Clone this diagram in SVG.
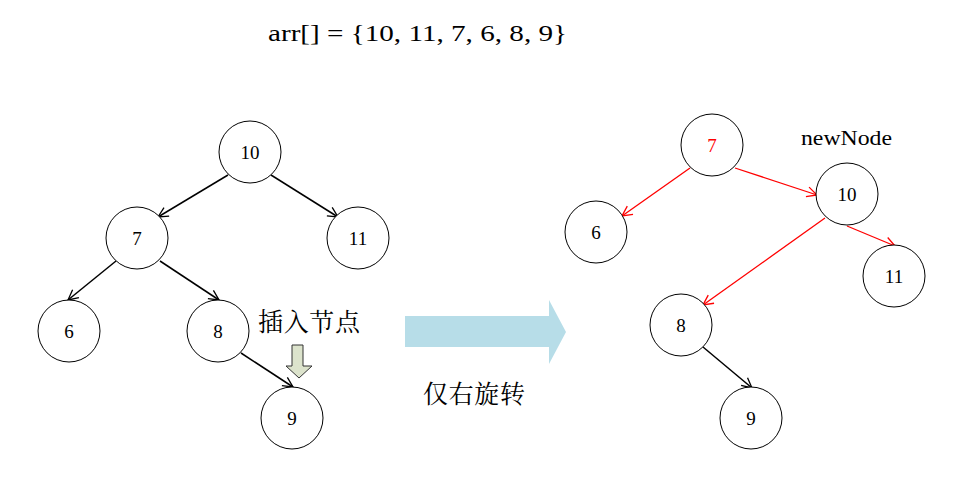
<svg xmlns="http://www.w3.org/2000/svg" width="963" height="483" viewBox="0 0 963 483">
<defs>
<style>
.node circle{fill:#fff;stroke:#000;stroke-width:1}
.lbl{font-family:"Liberation Serif","DejaVu Serif",serif;font-size:19px;text-anchor:middle;dominant-baseline:central;fill:#000}
.cap{font-family:"Noto Serif CJK SC","Noto Sans CJK SC",serif;font-size:25px;fill:#000}
.e{stroke:#000;stroke-width:1.5;fill:none;marker-end:url(#ab)}
.r{stroke:#ff0000;stroke-width:1.3;fill:none;marker-end:url(#ar)}
</style>
<marker id="ab" viewBox="0 0 12 12" refX="11" refY="6" markerWidth="12" markerHeight="12" markerUnits="userSpaceOnUse" orient="auto"><path d="M1,1 L11,6 L1,11" fill="none" stroke="#000" stroke-width="1.3"/></marker>
<marker id="ar" viewBox="0 0 12 12" refX="11" refY="6" markerWidth="12" markerHeight="12" markerUnits="userSpaceOnUse" orient="auto"><path d="M1,1 L11,6 L1,11" fill="none" stroke="#ff0000" stroke-width="1.3"/></marker>
</defs>
<rect width="963" height="483" fill="#fff"/>
<text x="268" y="41" font-family="Liberation Serif,DejaVu Serif,serif" font-size="23" textLength="299" lengthAdjust="spacingAndGlyphs">arr[] = {10, 11, 7, 6, 8, 9}</text>
<g id="connectors">
<line class="e" x1="228" y1="175" x2="158" y2="217"/>
<line class="e" x1="271" y1="175" x2="338" y2="217"/>
<line class="e" x1="116" y1="261" x2="68" y2="300"/>
<line class="e" x1="160" y1="261" x2="219" y2="300"/>
<line class="e" x1="241" y1="353" x2="293" y2="387"/>
<line class="r" x1="690" y1="168" x2="622" y2="216"/>
<line class="r" x1="735" y1="168" x2="817" y2="195"/>
<line class="r" x1="825" y1="218" x2="703" y2="305"/>
<line class="r" x1="847" y1="226" x2="895" y2="246"/>
<line class="e" x1="703" y1="347" x2="752" y2="388"/>
</g>
<g id="L10" class="node"><circle cx="250" cy="152" r="31"/><text class="lbl" x="250" y="152">10</text></g>
<g id="L7" class="node"><circle cx="137" cy="238" r="31"/><text class="lbl" x="137" y="238">7</text></g>
<g id="L11" class="node"><circle cx="358" cy="238" r="31"/><text class="lbl" x="358" y="238">11</text></g>
<g id="L6" class="node"><circle cx="69" cy="331" r="31"/><text class="lbl" x="69" y="331">6</text></g>
<g id="L8" class="node"><circle cx="218" cy="331" r="31"/><text class="lbl" x="218" y="331">8</text></g>
<g id="L9" class="node"><circle cx="292" cy="418" r="31"/><text class="lbl" x="292" y="418">9</text></g>
<g id="R7" class="node"><circle cx="712" cy="145" r="31"/><text class="lbl" x="712" y="145" style="fill:#ff0000">7</text></g>
<g id="R10" class="node"><circle cx="847" cy="194" r="31"/><text class="lbl" x="847" y="194">10</text></g>
<g id="R6" class="node"><circle cx="596" cy="232" r="31"/><text class="lbl" x="596" y="232">6</text></g>
<g id="R11" class="node"><circle cx="894" cy="276" r="31"/><text class="lbl" x="894" y="276">11</text></g>
<g id="R8" class="node"><circle cx="681" cy="325" r="31"/><text class="lbl" x="681" y="325">8</text></g>
<g id="R9" class="node"><circle cx="751" cy="418" r="31"/><text class="lbl" x="751" y="418">9</text></g>
<text x="801" y="145" font-family="Liberation Serif,DejaVu Serif,serif" font-size="21" textLength="91" lengthAdjust="spacingAndGlyphs">newNode</text>
<text class="cap" x="258" y="331" textLength="102">插入节点</text>
<path d="M292,345 H303 V366 H312 L299,378 L286,366 H292 Z" fill="#dce3cc" stroke="#333" stroke-width="1"/>
<path d="M405,316 H549 V300 L566,332 L549,364 V347 H405 Z" fill="#b7dde8"/>
<text class="cap" x="423" y="403" textLength="102">仅右旋转</text>
</svg>
